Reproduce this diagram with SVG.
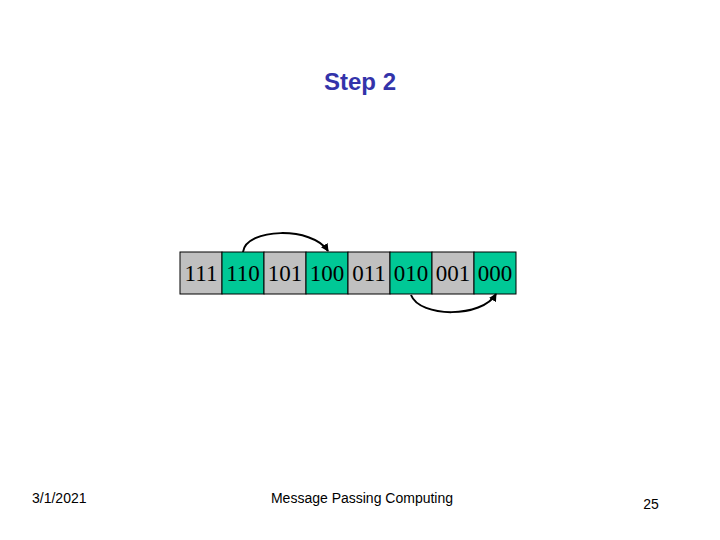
<svg xmlns="http://www.w3.org/2000/svg" width="720" height="540" viewBox="0 0 720 540">
<style>
.g{fill:#c0c0c0;stroke:#000;stroke-width:1}
.t{fill:#00c896;stroke:#000;stroke-width:1}
.n{font-family:"Liberation Serif",serif;font-size:23px;text-anchor:middle;fill:#000}
.f{font-family:"Liberation Sans",sans-serif;font-size:14px;fill:#000}
</style>
<defs><marker id="a" markerWidth="8" markerHeight="8" refX="7" refY="4" orient="auto" markerUnits="userSpaceOnUse"><path d="M0,0L8,4L0,8z" fill="#000"/></marker></defs>
<rect width="720" height="540" fill="#fff"/>
<text x="360" y="90" text-anchor="middle" font-family="Liberation Sans,sans-serif" font-weight="bold" font-size="24" fill="#3333aa">Step 2</text>
<g id="c0"><rect class="g" x="180" y="252" width="42" height="42"/><text class="n" x="201" y="281">111</text></g>
<g id="c1"><rect class="t" x="222" y="252" width="42" height="42"/><text class="n" x="243" y="281">110</text></g>
<g id="c2"><rect class="g" x="264" y="252" width="42" height="42"/><text class="n" x="285" y="281">101</text></g>
<g id="c3"><rect class="t" x="306" y="252" width="42" height="42"/><text class="n" x="327" y="281">100</text></g>
<g id="c4"><rect class="g" x="348" y="252" width="42" height="42"/><text class="n" x="369" y="281">011</text></g>
<g id="c5"><rect class="t" x="390" y="252" width="42" height="42"/><text class="n" x="411" y="281">010</text></g>
<g id="c6"><rect class="g" x="432" y="252" width="42" height="42"/><text class="n" x="453" y="281">001</text></g>
<g id="c7"><rect class="t" x="474" y="252" width="42" height="42"/><text class="n" x="495" y="281">000</text></g>
<g id="connectors" fill="none" stroke="#000" stroke-width="2">
<path d="M243,252 C246,228 312,226 328,251" marker-end="url(#a)"/>
<path d="M411,295 C420,318 482,318 496,294" marker-end="url(#a)"/>
</g>
<text class="f" x="32" y="503">3/1/2021</text>
<text class="f" x="362" y="503" text-anchor="middle">Message Passing Computing</text>
<text class="f" x="651" y="509" text-anchor="middle">25</text>
</svg>
